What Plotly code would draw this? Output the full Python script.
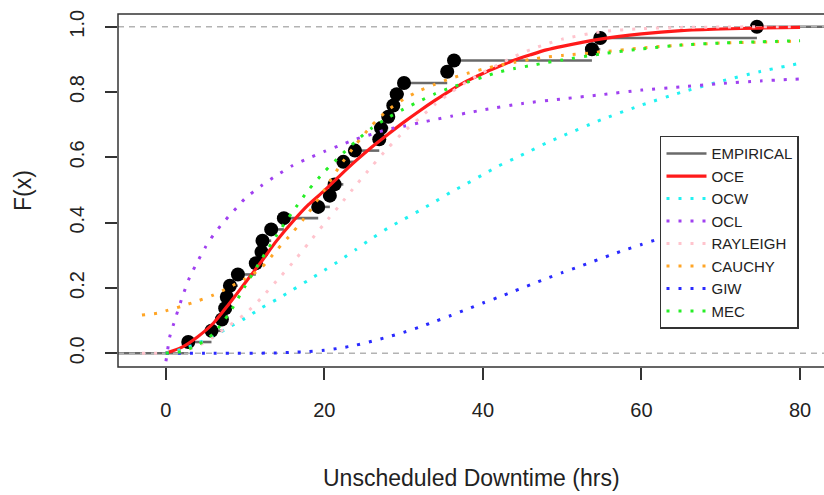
import numpy as np
import plotly.graph_objects as go

# Unscheduled downtime observations (hours), n = 29
downtime_hrs = [2.84, 5.77, 7.08, 7.5, 7.7, 8.1, 9.1, 11.36, 12.08, 12.2,
                13.3, 14.9, 19.23, 20.7, 21.3, 22.4, 22.4, 23.86, 26.93, 27.15,
                28.07, 28.7, 29.13, 30.05, 35.5, 36.36, 53.75, 54.8, 74.56]

# Fitted CDF curves evaluated on an x grid
grid_x = [0, 2, 4, 6, 8, 10, 12, 14, 16, 18, 20, 22, 24, 26, 28, 30, 32, 34,
          36, 38, 40, 42, 44, 46, 48, 50, 55, 60, 65, 70, 75, 80]

oce_y = [0, 0.018, 0.05, 0.092, 0.152, 0.215, 0.279, 0.345, 0.403, 0.455, 0.498,
         0.545, 0.59, 0.632, 0.67, 0.707, 0.742, 0.775, 0.806, 0.834, 0.857,
         0.878, 0.898, 0.914, 0.929, 0.94, 0.963, 0.978, 0.988, 0.993, 0.996, 0.998]

ocw_y = [0, 0.012, 0.03, 0.052, 0.08, 0.107, 0.138, 0.165, 0.194, 0.224, 0.254,
         0.285, 0.318, 0.352, 0.383, 0.41, 0.437, 0.465, 0.494, 0.52, 0.547,
         0.574, 0.597, 0.62, 0.644, 0.665, 0.716, 0.76, 0.799, 0.833, 0.863, 0.888]

mec_y = [0, 0.005, 0.025, 0.06, 0.122, 0.205, 0.285, 0.362, 0.433, 0.5, 0.556,
         0.604, 0.65, 0.69, 0.721, 0.748, 0.772, 0.795, 0.814, 0.83, 0.846,
         0.861, 0.872, 0.881, 0.89, 0.898, 0.917, 0.932, 0.944, 0.95, 0.954, 0.957]

ocl_x = [-0.3, 0.0, 0.5, 1, 2, 3, 4, 5, 6, 7, 8, 9, 10, 12, 14, 16, 18, 20, 22,
         24, 26, 28, 30, 32, 34, 36, 38, 40, 45, 50, 55, 60, 65, 70, 75, 80]
ocl_y = [-0.06, -0.028, 0.05, 0.09, 0.166, 0.232, 0.28, 0.325, 0.362, 0.393,
         0.421, 0.447, 0.474, 0.512, 0.545, 0.575, 0.597, 0.618, 0.637, 0.656,
         0.671, 0.686, 0.695, 0.706, 0.716, 0.726, 0.736, 0.745, 0.765, 0.779,
         0.792, 0.806, 0.816, 0.826, 0.834, 0.84]

tail_x = [-3, -1] + grid_x
rayleigh_y = [0, 0, 0, 0.005, 0.022, 0.05, 0.085, 0.12, 0.168, 0.222, 0.277,
              0.337, 0.397, 0.455, 0.515, 0.573, 0.628, 0.678, 0.72, 0.763,
              0.799, 0.832, 0.86, 0.885, 0.909, 0.93, 0.947, 0.962, 0.985,
              0.994, 0.998, 0.999, 1.0, 1.0]
cauchy_y = [0.117, 0.123, 0.13, 0.144, 0.16, 0.178, 0.202, 0.228, 0.26, 0.316,
            0.37, 0.43, 0.5, 0.575, 0.64, 0.698, 0.745, 0.778, 0.804, 0.824,
            0.842, 0.857, 0.87, 0.882, 0.891, 0.9, 0.907, 0.912, 0.923, 0.935,
            0.944, 0.95, 0.953, 0.956]

giw_x = [0, 5, 10, 14, 16, 18, 20, 22, 24, 26, 28, 30, 32, 34, 36, 38, 40, 42,
         44, 46, 48, 50, 52, 54, 56, 58, 60, 62, 66, 70, 75, 80]
giw_y = [0, 0, 0, 0.001, 0.003, 0.005, 0.009, 0.016, 0.025, 0.037, 0.05, 0.064,
         0.08, 0.098, 0.116, 0.135, 0.154, 0.172, 0.191, 0.21, 0.229, 0.247,
         0.264, 0.282, 0.3, 0.317, 0.333, 0.349, 0.378, 0.405, 0.436, 0.463]

x_ticks = [0, 20, 40, 60, 80]
y_ticks = [0.0, 0.2, 0.4, 0.6, 0.8, 1.0]
y_tick_text = ["0.0", "0.2", "0.4", "0.6", "0.8", "1.0"]
ref_levels = [0, 1]

X_RANGE = [-6.02, 83.02]
Y_RANGE = [-0.042, 1.039]

# Empirical CDF: level at each distinct observation
obs = np.sort(np.array(downtime_hrs))
ux = np.unique(obs)
levels = np.searchsorted(obs, ux, side="right") / len(obs)

# Horizontal step segments, extending to the plot edges
step_x, step_y = [X_RANGE[0], ux[0], None], [0, 0, None]
for k in range(len(ux)):
    right = ux[k + 1] if k + 1 < len(ux) else X_RANGE[1]
    step_x += [ux[k], right, None]
    step_y += [levels[k], levels[k], None]

FONT = "Liberation Sans, Arial, Helvetica, sans-serif"
DOT = "3px,9px"

fig = go.Figure()
fig.add_trace(go.Scatter(x=step_x, y=step_y, mode="lines", name="EMPIRICAL",
                         line=dict(color="#6a6a6a", width=2.6)))
fig.add_trace(go.Scatter(x=ux, y=levels, mode="markers", showlegend=False,
                         marker=dict(color="black", size=14, line=dict(width=0))))
for lv in ref_levels:
    fig.add_trace(go.Scatter(x=X_RANGE, y=[lv, lv], mode="lines", showlegend=False,
                             line=dict(color="#b3b3b3", width=1.6, dash="6px,5px")))

curves = [
    ("OCE", grid_x, oce_y, "#ff1a1a", None, 3.2),
    ("OCW", grid_x, ocw_y, "#22f2f2", DOT, 3),
    ("OCL", ocl_x, ocl_y, "#a040f0", DOT, 3),
    ("RAYLEIGH", tail_x, rayleigh_y, "#ffc4cd", DOT, 3),
    ("CAUCHY", tail_x, cauchy_y, "#ffa526", DOT, 3),
    ("GIW", giw_x, giw_y, "#2a2aff", DOT, 3),
    ("MEC", grid_x, mec_y, "#26ee26", DOT, 3),
]
for name, cx, cy, color, dash, w in curves:
    line = dict(color=color, width=w, shape="spline", smoothing=0.6)
    if dash:
        line["dash"] = dash
    fig.add_trace(go.Scatter(x=cx, y=cy, mode="lines", name=name, line=line))

axis_common = dict(showgrid=False, zeroline=False, showline=False,
                   ticks="outside", ticklen=12, tickwidth=1.5, tickcolor="#333",
                   tickfont=dict(family=FONT, size=20, color="#222"))
fig.update_xaxes(range=X_RANGE, tickvals=x_ticks, ticklabelstandoff=13, **axis_common)
fig.update_yaxes(range=Y_RANGE, tickvals=y_ticks, ticktext=y_tick_text,
                 tickangle=-90, ticklabelstandoff=13, **axis_common)

fig.update_layout(
    width=824, height=495,
    margin=dict(l=118, r=0, t=14, b=128, pad=0),
    paper_bgcolor="white", plot_bgcolor="white",
    font=dict(family=FONT, color="#222"),
    showlegend=True,
    legend=dict(x=0.7677, y=0.655, xanchor="left", yanchor="top",
                bgcolor="white", bordercolor="#333", borderwidth=1.5,
                itemwidth=40,
                font=dict(family=FONT, size=15, color="#222"),
                traceorder="normal"),
    shapes=[dict(type="rect", xref="paper", yref="paper", x0=0, x1=1.02, y0=0, y1=1,
                 line=dict(color="#333", width=1.5), layer="above")],
    annotations=[
        dict(text="Unscheduled Downtime (hrs)", xref="paper", yref="paper",
             x=0.5014, y=-0.3144, xanchor="center", yanchor="middle",
             showarrow=False, font=dict(family=FONT, size=23, color="#222")),
        dict(text="F(x)", xref="paper", yref="paper", x=-0.1346, y=0.5014,
             xanchor="center", yanchor="middle", textangle=-90,
             showarrow=False, font=dict(family=FONT, size=23, color="#222")),
    ],
)

fig.write_html("out.html")
